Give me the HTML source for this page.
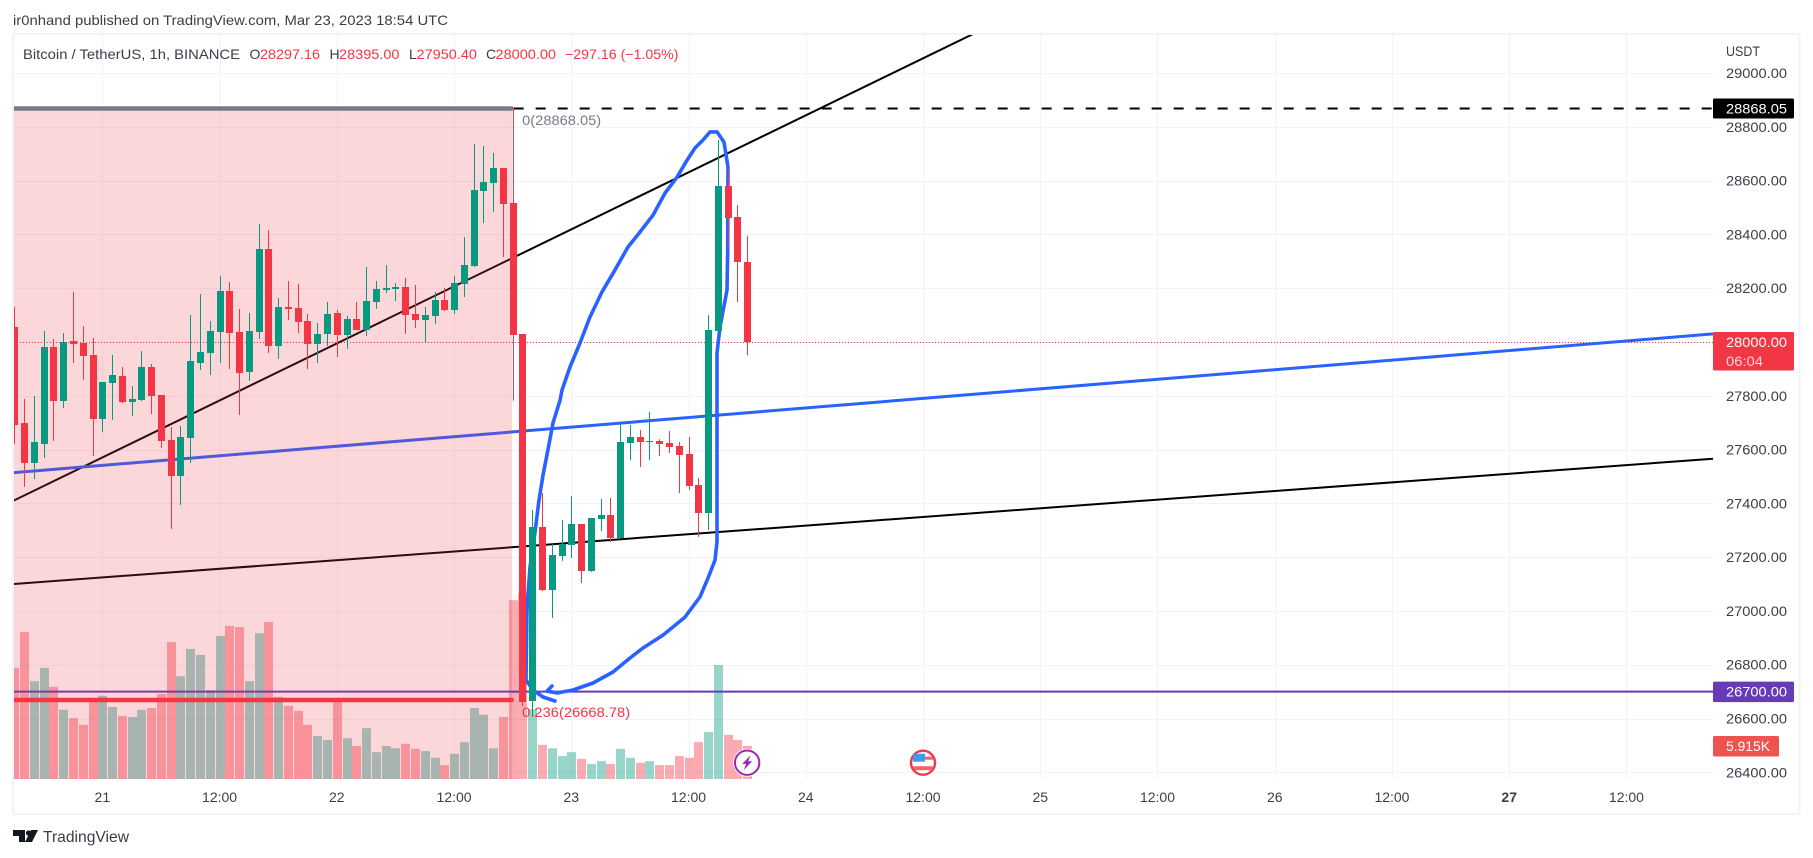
<!DOCTYPE html>
<html lang="en">
<head>
<meta charset="utf-8">
<title>Bitcoin / TetherUS chart</title>
<style>
html,body{margin:0;padding:0;background:#fff;width:1813px;height:858px;overflow:hidden}
svg{display:block;font-family:"Liberation Sans",Arial,sans-serif}
</style>
</head>
<body>
<svg id="chart" xmlns="http://www.w3.org/2000/svg" width="1813" height="858" viewBox="0 0 1813 858">
  <defs><clipPath id="pane"><rect x="14" y="35" width="1699" height="744"/></clipPath></defs>
  <rect x="0" y="0" width="1813" height="858" fill="#ffffff"/>
  <text x="13" y="25" font-size="14" fill="#3b3e47" textLength="435" lengthAdjust="spacingAndGlyphs">ir0nhand published on TradingView.com, Mar 23, 2023 18:54 UTC</text>
  <rect x="13" y="34" width="1786.5" height="780" fill="none" stroke="#f0f3fa" stroke-width="2"/>
  <g id="gridLayer" clip-path="url(#pane)"></g>
  <g id="volumeLayer" clip-path="url(#pane)"></g>
  <g id="drawLayer" clip-path="url(#pane)"></g>
  <g id="shadeLayer" clip-path="url(#pane)"></g>
  <g id="candleLayer" clip-path="url(#pane)"></g>
  <g id="eventLayer"></g>
  <g font-size="14">
    <text x="23" y="59" fill="#3b3e47" textLength="217" lengthAdjust="spacingAndGlyphs">Bitcoin / TetherUS, 1h, BINANCE</text>
    <text x="249.5" y="59" fill="#3b3e47">O</text>
    <text x="260" y="59" fill="#f23645" textLength="60" lengthAdjust="spacingAndGlyphs">28297.16</text>
    <text x="329.5" y="59" fill="#3b3e47">H</text>
    <text x="339" y="59" fill="#f23645" textLength="60.5" lengthAdjust="spacingAndGlyphs">28395.00</text>
    <text x="409" y="59" fill="#3b3e47">L</text>
    <text x="416.5" y="59" fill="#f23645" textLength="60.5" lengthAdjust="spacingAndGlyphs">27950.40</text>
    <text x="486" y="59" fill="#3b3e47">C</text>
    <text x="495.5" y="59" fill="#f23645" textLength="60.5" lengthAdjust="spacingAndGlyphs">28000.00</text>
    <text x="565" y="59" fill="#f23645" textLength="113.5" lengthAdjust="spacingAndGlyphs">−297.16 (−1.05%)</text>
  </g>
  <text x="1726" y="56" font-size="14" fill="#3b3e47" textLength="34" lengthAdjust="spacingAndGlyphs">USDT</text>
  <g id="priceAxis"></g>
  <g id="timeAxis"></g>
  <g id="tagLayer"></g>
  <g>
    <path fill="#131722" d="M13 830h12v12h-6v-6h-6z M31 830h7l-6 12h-7z"/>
    <circle cx="28.5" cy="833" r="2.6" fill="#131722"/>
    <text x="43" y="842" font-size="16" fill="#3b3e47" textLength="86" lengthAdjust="spacingAndGlyphs">TradingView</text>
  </g>
</svg>
<script>
const opens=[28057,27699,27550,27621,27981,27780,28004,27996,27952,27714,27847,27873,27777,27784,27907,27803,27636,27502,27643,27922,27959,28037,28190,28037,27888,28037,28346,27985,28130,28126,28078,27992,28030,28108,28026,28085,28044,28149,28193,28197,28204,28104,28082,28097,28156,28119,28216,28282,28561,28591,28647,28517,28030,26666,27312,27078,27204,27245,27323,27148,27342,27357,27271,27624,27647,27628,27632,27624,27613,27583,27468,27364,28041,28580,28465,28297.16];
const highs=[28131,27788,27799,28041,28011,28033,28186,28059,28015,27851,27952,27907,27836,27966,27918,27803,27684,27688,28100,28178,28078,28245,28223,28123,28108,28439,28416,28163,28227,28216,28104,28071,28149,28119,28097,28149,28279,28227,28286,28219,28238,28212,28130,28186,28201,28245,28390,28736,28729,28703,28647,28868,28030,27375,27438,27249,27338,27427,27323,27345,27416,27420,27699,27691,27673,27740,27639,27669,27628,27647,27494,28100,28751,28647,28509,28395];
const lows=[27621,27461,27490,27569,27632,27754,27922,27859,27576,27665,27710,27773,27725,27780,27732,27606,27305,27394,27550,27896,27877,27922,27899,27728,27855,28011,27959,27937,28082,28033,27899,27922,27985,27944,27974,28044,28022,28123,28182,28152,28030,28052,27996,28067,28115,28104,28167,28279,28442,28483,28316,27782,26646,26606,27074,26974,27186,27197,27104,27145,27297,27256,27271,27561,27535,27561,27576,27587,27438,27450,27275,27301,28041,28353,28149,27950.4];
const closes=[27691,27550,27628,27981,27780,28000,27992,27948,27714,27851,27877,27777,27788,27907,27799,27632,27502,27647,27929,27963,28041,28190,28033,27885,28041,28346,27985,28130,28123,28074,27992,28030,28104,28026,28085,28044,28152,28197,28201,28204,28100,28082,28100,28156,28119,28219,28286,28565,28595,28647,28513,28026,26662,27312,27078,27208,27249,27323,27148,27345,27357,27271,27628,27647,27628,27632,27621,27610,27580,27464,27364,28044,28580,28461,28297,28000];
const volumesK=[19.9,26.3,17.5,19.9,16.5,12.4,10.9,9.7,13.8,14.9,12.9,11.3,11.1,12.4,12.7,15.2,24.5,18.4,23.3,22.2,15.9,25.6,27.4,27.2,17.5,26.1,28.1,14.7,13.1,12.2,9.7,7.7,7.0,14.1,7.3,5.9,9.1,4.8,5.9,5.5,6.3,5.4,5.0,3.8,2.5,4.5,6.6,12.7,11.5,5.5,11.1,32.0,33.3,12.5,6.1,5.5,4.1,4.8,3.6,2.7,3.2,2.7,5.4,3.8,2.9,3.2,2.5,2.5,4.1,3.8,6.6,8.4,20.4,7.9,7.0,5.915];
const priceTicks=[29000,28800,28600,28400,28200,28000,27800,27600,27400,27200,27000,26800,26600,26400];
const timeTickBars=[9,21,33,45,57,69,81,93,105,117,129,141,153,165];
const timeTickLabels=['21','12:00','22','12:00','23','12:00','24','12:00','25','12:00','26','12:00','27','12:00'];
const trendBlueBars=[-0.14,173.9];
const trendBluePrices=[27514,28030];
const trendUpperBars=[-0.14,98.12];
const trendUpperPrices=[27409,29145];
const trendLowerBars=[-0.14,173.9];
const trendLowerPrices=[27100,27566];
const brushBars=[55.33,54.1,53.08,52.36,52.47,52.57,52.77,53.28,53.69,54.1,54.61,55.13,55.85,56.05,56.87,57.89,58.91,60.14,61.47,62.8,64.03,65.37,66.6,67.83,68.85,69.66,70.48,71.2,71.91,72.63,73.04,73.01,72.94,72.22,71.91,71.91,71.91,71.91,71.71,70.99,70.17,68.64,66.39,64.34,63.01,61.27,59.22,57.18,55.54,54.51,55.03];
const brushPrices=[26665,26680,26706,26743,27003,27059,27163,27290,27412,27505,27598,27699,27784,27821,27907,27996,28093,28186,28268,28353,28409,28472,28554,28613,28676,28721,28751,28781,28781,28743,28650,28342,28193,28056,27959,27784,27412,27257,27189,27122,27052,26977,26910,26862,26825,26773,26732,26706,26695,26702,26721];
const fibTopPrice=28868.05;
const fibBottomPrice=26668.78;
const horizontalLevel=26700;
const lastPrice=28000;
const lastVolumeK=5.915;
const fibEndBar=51;
const eventBars=[75,93];

const NS='http://www.w3.org/2000/svg';
const paneLeft=14,paneRight=1713,paneBottom=779;
function xOf(bar){return 14.4+9.77*bar;}
function yOf(price){return 73+(29000-price)*0.26896;}
function vHeight(k){return k/0.179;}
function make(parent,tag,attrs,text){
  const n=document.createElementNS(NS,tag);
  for(const k in attrs)n.setAttribute(k,attrs[k]);
  if(text!==undefined)n.textContent=text;
  parent.appendChild(n);
  return n;
}
const gridLayer=document.getElementById('gridLayer');
const volumeLayer=document.getElementById('volumeLayer');
const drawLayer=document.getElementById('drawLayer');
const shadeLayer=document.getElementById('shadeLayer');
const candleLayer=document.getElementById('candleLayer');
const eventLayer=document.getElementById('eventLayer');
const priceAxis=document.getElementById('priceAxis');
const timeAxis=document.getElementById('timeAxis');
const tagLayer=document.getElementById('tagLayer');

priceTicks.forEach(function(p){
  const y=Math.round(yOf(p))+0.5;
  const line=make(gridLayer,'line',{x1:paneLeft,x2:paneRight,y1:y,y2:y,stroke:'#f0f3fa','stroke-width':1});
  
  
  const t=make(priceAxis,'text',{x:1726,y:yOf(p)+5,'font-size':14,fill:'#3b3e47',textLength:61,lengthAdjust:'spacingAndGlyphs'},p.toFixed(2));
  
  
});
timeTickBars.forEach(function(b,i){
  const x=Math.round(xOf(b))+0.5;
  const line=make(gridLayer,'line',{x1:x,x2:x,y1:35,y2:paneBottom,stroke:'#f0f3fa','stroke-width':1});
  
  
  const t=make(timeAxis,'text',{x:xOf(b),y:802,'font-size':14,fill:'#3b3e47','text-anchor':'middle','font-weight':timeTickLabels[i]==='27'?'bold':'normal'},timeTickLabels[i]);
  
  
});

volumesK.forEach(function(v,i){
  const h=vHeight(v);
  const up=closes[i]>=opens[i];
  const r=make(volumeLayer,'rect',{x:Math.round(xOf(i))-4,y:paneBottom-h,width:9,height:h,fill:up?'rgba(8,153,129,0.42)':'rgba(242,54,69,0.42)'});
  
  
});

const lastLine=make(drawLayer,'line',{x1:paneLeft,x2:paneRight,y1:Math.round(yOf(lastPrice))+0.5,y2:Math.round(yOf(lastPrice))+0.5,stroke:'#f23645','stroke-width':1,'stroke-dasharray':'1 2'});



const trendUpper=make(drawLayer,'line',{x1:xOf(trendUpperBars[0]),y1:yOf(trendUpperPrices[0]),x2:xOf(trendUpperBars[1]),y2:yOf(trendUpperPrices[1]),stroke:'#000000','stroke-width':2});


const trendLower=make(drawLayer,'line',{x1:xOf(trendLowerBars[0]),y1:yOf(trendLowerPrices[0]),x2:xOf(trendLowerBars[1]),y2:yOf(trendLowerPrices[1]),stroke:'#000000','stroke-width':2});


const trendBlue=make(drawLayer,'line',{x1:xOf(trendBlueBars[0]),y1:yOf(trendBluePrices[0]),x2:xOf(trendBlueBars[1]),y2:yOf(trendBluePrices[1]),stroke:'#2962ff','stroke-width':3});


const levelLine=make(drawLayer,'line',{x1:paneLeft,x2:paneRight,y1:yOf(horizontalLevel),y2:yOf(horizontalLevel),stroke:'#673ab7','stroke-width':2});


const dashed=make(drawLayer,'line',{x1:xOf(fibEndBar)+1,x2:paneRight,y1:yOf(fibTopPrice),y2:yOf(fibTopPrice),stroke:'#000000','stroke-width':2,'stroke-dasharray':'10 12'});


const brush=make(drawLayer,'polyline',{points:brushBars.map(function(b,i){return xOf(b).toFixed(1)+','+yOf(brushPrices[i]).toFixed(1);}).join(' '),fill:'none',stroke:'#2962ff','stroke-width':3.6,'stroke-linejoin':'round','stroke-linecap':'round'});



const shade=make(shadeLayer,'rect',{x:paneLeft,y:yOf(fibTopPrice),width:xOf(fibEndBar)-paneLeft-0.5,height:paneBottom-yOf(fibTopPrice),fill:'rgba(242,54,69,0.2)'});


const fibTop=make(shadeLayer,'line',{x1:paneLeft,x2:xOf(fibEndBar)-1,y1:yOf(fibTopPrice),y2:yOf(fibTopPrice),stroke:'#787b86','stroke-width':4.5,'stroke-linecap':'round'});


const fibBottom=make(shadeLayer,'line',{x1:paneLeft,x2:xOf(fibEndBar)-1,y1:yOf(fibBottomPrice),y2:yOf(fibBottomPrice),stroke:'#f23645','stroke-width':4.5,'stroke-linecap':'round'});



opens.forEach(function(o,i){
  const c=closes[i],up=c>=o,col=up?'#089981':'#f23645';
  const cx=Math.round(xOf(i));
  const top=Math.round(yOf(Math.max(o,c))),bot=Math.round(yOf(Math.min(o,c)));
  const wick=make(candleLayer,'rect',{x:cx,y:yOf(highs[i]),width:1,height:yOf(lows[i])-yOf(highs[i]),fill:col});
  
  
  const body=make(candleLayer,'rect',{x:cx-3,y:top,width:7,height:Math.max(bot-top,1),fill:col});
  
  
});

const fibLabelTop=make(tagLayer,'text',{x:xOf(fibEndBar)+9.5,y:yOf(fibTopPrice)+16.5,'font-size':14,fill:'#787b86',textLength:79,lengthAdjust:'spacingAndGlyphs'},'0(28868.05)');


const fibLabelBottom=make(tagLayer,'text',{x:xOf(fibEndBar)+9.5,y:yOf(fibBottomPrice)+17,'font-size':14,fill:'#f23645',textLength:108,lengthAdjust:'spacingAndGlyphs'},'0.236(26668.78)');



function tag(centerY,width,height,topOffset,fill,label,name){
  const g=make(tagLayer,'g',{});
  
  
  make(g,'rect',{x:paneRight,y:centerY-topOffset,width:width,height:height,rx:1.5,fill:fill});
  make(g,'text',{x:1726,y:centerY+5,'font-size':14,fill:'#ffffff',textLength:label.length>6?61:44,lengthAdjust:'spacingAndGlyphs'},label);
  return g;
}
tag(yOf(fibTopPrice),81,20,10,'#000000','28868.05','high-price-tag');
const lastTag=tag(yOf(lastPrice),81,38.5,10,'#f23645','28000.00','last-price-tag');
const countdown=make(lastTag,'text',{x:1726,y:yOf(lastPrice)+24,'font-size':14,fill:'rgba(255,255,255,0.8)',textLength:37,lengthAdjust:'spacingAndGlyphs'},'06:04');


tag(yOf(horizontalLevel),81,20.5,10,'#673ab7','26700.00','level-price-tag');
tag(paneBottom-vHeight(lastVolumeK),66,20.5,10,'#ef5350','5.915K','volume-tag');

const evY=762.7;
const ev1=make(eventLayer,'g',{transform:'translate('+xOf(eventBars[0])+','+evY+')'});


make(ev1,'circle',{r:14,fill:'#ffffff'});
make(ev1,'circle',{r:12.2,fill:'#ffffff',stroke:'#9c27b0','stroke-width':2});
make(ev1,'path',{d:'M3.5-7.5L-5 1.2h4L-3.5 7.5 5-1.5H1z',fill:'#9c27b0'});
const ev2=make(eventLayer,'g',{transform:'translate('+xOf(eventBars[1])+','+evY+')'});


make(ev2,'circle',{r:14,fill:'#ffffff'});
make(ev2,'circle',{r:12,fill:'#ffffff',stroke:'#f23645','stroke-width':2.4});
make(ev2,'rect',{x:-10,y:-9,width:12,height:8,fill:'#3d9bef'});
make(ev2,'rect',{x:2,y:-6,width:8.5,height:3,fill:'#f4606c'});
make(ev2,'rect',{x:-9.5,y:3.5,width:19,height:4,fill:'#f4606c'});
</script>
</body>
</html>
